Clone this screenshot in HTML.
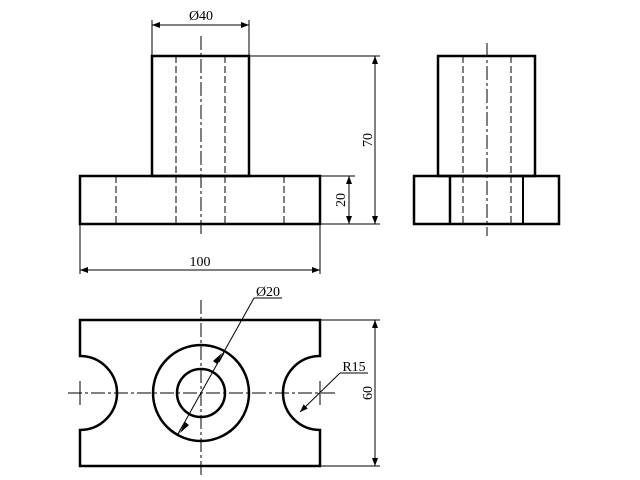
<html><body style="margin:0;background:#fff">
<svg width="640" height="480" xmlns="http://www.w3.org/2000/svg" font-family="Liberation Serif, serif" font-size="14">
<defs><marker id="a" markerWidth="8" markerHeight="6" refX="8" refY="3" orient="auto-start-reverse" markerUnits="userSpaceOnUse"><path d="M0,0L8,3L0,6z" fill="#000"/></marker></defs>
<g stroke="#000" fill="none">
<!-- front view -->
<rect x="80" y="176" width="240" height="48" stroke-width="2.5"/>
<rect x="152" y="56" width="97" height="120" stroke-width="2.5"/>
<g stroke-width="1" stroke-dasharray="7,3">
<line x1="116" y1="176" x2="116" y2="224"/><line x1="284" y1="176" x2="284" y2="224"/>
<line x1="176" y1="56" x2="176" y2="224"/><line x1="225" y1="56" x2="225" y2="224"/>
</g>
<line x1="201" y1="36" x2="201" y2="236" stroke-width="1" stroke-dasharray="14,3,3,3"/>
<g stroke-width="1">
<line x1="152" y1="20" x2="152" y2="56"/><line x1="249" y1="20" x2="249" y2="56"/>
<line x1="152" y1="25" x2="249" y2="25" marker-start="url(#a)" marker-end="url(#a)"/>
<line x1="249" y1="56" x2="380" y2="56"/><line x1="320" y1="224" x2="380" y2="224"/>
<line x1="375" y1="56" x2="375" y2="224" marker-start="url(#a)" marker-end="url(#a)"/>
<line x1="320" y1="176" x2="355" y2="176"/>
<line x1="349" y1="176" x2="349" y2="224" marker-start="url(#a)" marker-end="url(#a)"/>
<line x1="80" y1="224" x2="80" y2="274"/><line x1="320" y1="224" x2="320" y2="274"/>
<line x1="80" y1="270" x2="320" y2="270" marker-start="url(#a)" marker-end="url(#a)"/>
</g>
<!-- side view -->
<rect x="438" y="56" width="97" height="120" stroke-width="2.5"/>
<rect x="414" y="176" width="145" height="48" stroke-width="2.5"/>
<line x1="450" y1="176" x2="450" y2="224" stroke-width="2.5"/>
<line x1="523" y1="176" x2="523" y2="224" stroke-width="2"/>
<g stroke-width="1" stroke-dasharray="7,3">
<line x1="463" y1="56" x2="463" y2="224"/><line x1="511" y1="56" x2="511" y2="224"/>
</g>
<line x1="487" y1="43" x2="487" y2="236" stroke-width="1" stroke-dasharray="14,3,3,3"/>
<!-- top view -->
<path d="M80,320H320V356A37,37 0 0 0 320,430V466H80V430A37,37 0 0 0 80,356Z" stroke-width="2.5"/>
<circle cx="201" cy="393" r="48" stroke-width="2.5"/>
<circle cx="201" cy="393" r="24" stroke-width="2.5"/>
<g stroke-width="1">
<line x1="68" y1="393" x2="338" y2="393" stroke-dasharray="14,3,3,3"/>
<line x1="201" y1="300" x2="201" y2="478" stroke-dasharray="14,3,3,3"/>
<line x1="80" y1="381" x2="80" y2="405"/><line x1="320" y1="381" x2="320" y2="405"/>
<line x1="320" y1="320" x2="380" y2="320"/><line x1="320" y1="466" x2="380" y2="466"/>
<line x1="375" y1="320" x2="375" y2="466" marker-start="url(#a)" marker-end="url(#a)"/>
<line x1="178" y1="434" x2="254" y2="298"/>
<line x1="254" y1="298" x2="282" y2="298"/>
<line x1="216" y1="369" x2="224" y2="355" stroke-width="0"/>
<line x1="340" y1="373" x2="300" y2="412" marker-end="url(#a)"/>
<line x1="340" y1="373" x2="368" y2="373"/>
</g>
<path d="M178,434L183,425M224,353L219,362" stroke-width="1"/>
</g>
<g fill="#000">
<text x="201" y="20" text-anchor="middle">Ø40</text>
<text x="200" y="266" text-anchor="middle">100</text>
<text transform="translate(372,140) rotate(-90)" text-anchor="middle">70</text>
<text transform="translate(345,200) rotate(-90)" text-anchor="middle">20</text>
<text transform="translate(372,393) rotate(-90)" text-anchor="middle">60</text>
<text x="268" y="296" text-anchor="middle">Ø20</text>
<text x="354" y="371" text-anchor="middle">R15</text>
</g>
<polygon points="185,422 180,433 189,425" fill="#000"/>
<polygon points="217,364 222,353 213,361" fill="#000"/>
</svg>
</body></html>
